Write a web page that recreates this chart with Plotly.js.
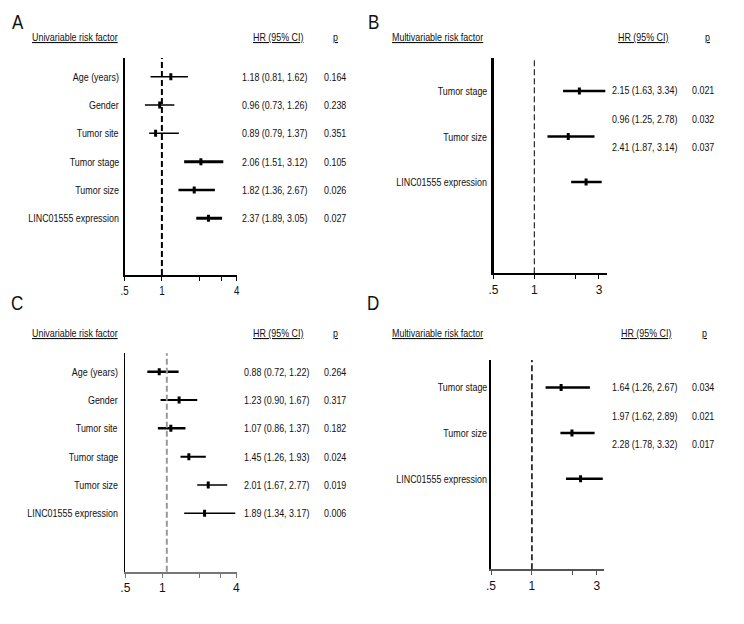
<!DOCTYPE html>
<html><head><meta charset="utf-8">
<script src="https://cdn.plot.ly/plotly-3.0.1.min.js"></script>
<style>html,body{margin:0;padding:0;background:#fff;}#chart{width:744px;height:624px;}</style>
</head><body><div id="chart"></div>
<script>
// ---------------- DATA ----------------
// Panel A – univariable
const factorsA = ['Age (years)', 'Gender', 'Tumor site', 'Tumor stage', 'Tumor size', 'LINC01555 expression'];
const hrA = [1.18, 0.96, 0.89, 2.06, 1.82, 2.37];
const loA = [0.81, 0.73, 0.79, 1.51, 1.36, 1.89];
const hiA = [1.62, 1.26, 1.37, 3.12, 2.67, 3.05];
const hrTextA = ['1.18 (0.81, 1.62)', '0.96 (0.73, 1.26)', '0.89 (0.79, 1.37)', '2.06 (1.51, 3.12)', '1.82 (1.36, 2.67)', '2.37 (1.89, 3.05)'];
const pA = ['0.164', '0.238', '0.351', '0.105', '0.026', '0.027'];

// Panel B – multivariable (plotted marks)
const factorsB = ['Tumor stage', 'Tumor size', 'LINC01555 expression'];
const hrB = [2.15, 1.78, 2.41];
const loB = [1.63, 1.25, 1.87];
const hiB = [3.34, 2.78, 3.14];
const hrTextB = ['2.15 (1.63, 3.34)', '0.96 (1.25, 2.78)', '2.41 (1.87, 3.14)'];
const pB = ['0.021', '0.032', '0.037'];

// Panel C – univariable
const factorsC = ['Age (years)', 'Gender', 'Tumor site', 'Tumor stage', 'Tumor size', 'LINC01555 expression'];
const hrC = [0.88, 1.23, 1.07, 1.45, 2.01, 1.89];
const loC = [0.72, 0.90, 0.86, 1.26, 1.67, 1.34];
const hiC = [1.22, 1.67, 1.37, 1.93, 2.77, 3.17];
const hrTextC = ['0.88 (0.72, 1.22)', '1.23 (0.90, 1.67)', '1.07 (0.86, 1.37)', '1.45 (1.26, 1.93)', '2.01 (1.67, 2.77)', '1.89 (1.34, 3.17)'];
const pC = ['0.264', '0.317', '0.182', '0.024', '0.019', '0.006'];

// Panel D – multivariable
const factorsD = ['Tumor stage', 'Tumor size', 'LINC01555 expression'];
const hrD = [1.64, 1.97, 2.28];
const loD = [1.26, 1.62, 1.78];
const hiD = [2.67, 2.89, 3.32];
const hrTextD = ['1.64 (1.26, 2.67)', '1.97 (1.62, 2.89)', '2.28 (1.78, 3.32)'];
const pD = ['0.034', '0.021', '0.017'];

const tickValsUni = [0.5, 1, 2, 3, 4];
const tickTextUni = ['.5', '1', '', '', '4'];
const tickValsMulti = [0.5, 1, 2, 3];
const tickTextMulti = ['.5', '1', '', '3'];

// ---------------- LAYOUT / STYLE ----------------
const W = 744, H = 624;
const FONT = "'Liberation Sans', Arial, sans-serif";
const FS = 11;
const SQUEEZE = 0.81;   // horizontal condensing of text to mimic a condensed face
const TXT = '#111';
const px = v => v / W;
const py = v => 1 - v / H;
const l10 = Math.log10;

const panels = [
  { letter: 'A', lx: 11, ly: 22, header: 'Univariable risk factor', hx: 30.7, hy: 36.7, hrHx: 252.3, pHx: 332,
    factors: factorsA, hr: hrA, lo: loA, hi: hiA, txt: hrTextA, p: pA,
    x0: 124.5, x1: 236.7, y0: 58, y1: 275, vis: [0.5, 4], marks: null,
    row0: 76.7, rowSp: 28.33, tRow0: 76.7, tRowSp: 28.33, labelX: 119.5, txtX: 240.7, pX: 323.3,
    tv: tickValsUni, tt: tickTextUni, yLW: 1.5, xLC: '#000', dashC: '#000', dashW: 2,
    lw: [1.5, 1.5, 1.5, 3, 2.5, 3] },
  { letter: 'B', lx: 367, ly: 22, header: 'Multivariable risk factor', hx: 391, hy: 36.7, hrHx: 617, pHx: 704,
    factors: factorsB, hr: hrB, lo: loB, hi: hiB, txt: hrTextB, p: pB,
    x0: 493.5, x1: 606.7, y0: 58, y1: 273.3, vis: [0.5, 3.42], marks: null,
    row0: 91, rowSp: 45.5, tRow0: 90.3, tRowSp: 28.3, labelX: 487.7, txtX: 611.3, pX: 691,
    tv: tickValsMulti, tt: tickTextMulti, yLW: 2.5, xLC: '#000', dashC: '#000', dashW: 1,
    lw: [2.5, 2.5, 2.5] },
  { letter: 'C', lx: 10, ly: 302, header: 'Univariable risk factor', hx: 30.7, hy: 333.3, hrHx: 252.3, pHx: 332,
    factors: factorsC, hr: hrC, lo: loC, hi: hiC, txt: hrTextC, p: pC,
    x0: 125.3, x1: 237, vis: [0.5, 4.05], y0: 353.3, y1: 571.7,
    marks: [Math.pow(2, -1.01), Math.pow(2, 1.707)],
    row0: 371.7, rowSp: 28.33, tRow0: 371.7, tRowSp: 28.33, labelX: 119, txtX: 243.3, pX: 322.7,
    tv: tickValsUni, tt: tickTextUni, yLW: 1.5, xLC: '#777', dashC: '#999', dashW: 2,
    lw: [2.5, 2, 2.5, 2, 1.5, 1.5] },
  { letter: 'D', lx: 366, ly: 302, header: 'Multivariable risk factor', hx: 391, hy: 333.3, hrHx: 620.3, pHx: 701.3,
    factors: factorsD, hr: hrD, lo: loD, hi: hiD, txt: hrTextD, p: pD,
    x0: 491, x1: 604, y0: 360, y1: 569.3, vis: [0.5, 3.39], marks: null,
    row0: 387.5, rowSp: 45.6, tRow0: 387.3, tRowSp: 28.3, labelX: 487.7, txtX: 611.3, pX: 691.3,
    tv: tickValsMulti, tt: tickTextMulti, yLW: 2.5, xLC: '#555', dashC: '#000', dashW: 1.5,
    lw: [2.5, 2.5, 2.5] }
];

const data = [];
const layout = {
  width: W, height: H, margin: { l: 0, r: 0, t: 0, b: 0 },
  paper_bgcolor: '#fff', plot_bgcolor: 'rgba(0,0,0,0)', showlegend: false,
  font: { family: FONT, size: FS, color: TXT },
  annotations: [], shapes: []
};

function ann(x, y, yref, text, xanchor, size) {
  layout.annotations.push({ xref: 'paper', yref: yref, x: x, y: y, xanchor: xanchor, align: xanchor,
    yanchor: 'middle', showarrow: false, text: text, borderpad: 0,
    font: { family: FONT, size: size || FS, color: TXT } });
}
const axId = (letter, num) => num === 1 ? letter : letter + num;
const axKey = (letter, num) => letter + 'axis' + (num === 1 ? '' : num);

let xCount = 0;
panels.forEach((P, k) => {
  const n = k + 1;
  const yy = axId('y', n);
  xCount += 1;
  const xvNum = xCount;
  const xv = axId('x', xvNum);
  const dom = [px(P.x0), px(P.x1)];
  const ydom = [py(P.y1), py(P.y0)];
  layout[axKey('x', xvNum)] = {
    type: 'log', domain: dom, range: [l10(P.vis[0]), l10(P.vis[1])], anchor: yy,
    showgrid: false, zeroline: false, showline: true, linecolor: P.xLC, linewidth: 2,
    ticks: 'outside', ticklen: 4, tickwidth: 1, tickcolor: P.xLC,
    tickvals: P.tv, ticktext: P.tt, tickfont: { family: FONT, size: 12, color: TXT }, fixedrange: true
  };
  let xm = xv;
  if (P.marks) {
    // separate scale for the marks (the original panel's marks sit on a shifted scale)
    xCount += 1;
    xm = axId('x', xCount);
    layout[axKey('x', xCount)] = {
      type: 'log', domain: dom, range: [l10(P.marks[0]), l10(P.marks[1])], anchor: yy,
      overlaying: xv, showline: false, ticks: '', showticklabels: false,
      showgrid: false, zeroline: false, fixedrange: true
    };
    data.push({ type: 'scatter', mode: 'markers', xaxis: xv, yaxis: yy, x: [1], y: [1],
      marker: { opacity: 0, size: 1 }, hoverinfo: 'skip' });
  }
  const yTop = 1 + (P.y0 - P.row0) / P.rowSp;
  const yBot = 1 + (P.y1 - P.row0) / P.rowSp;
  layout[axKey('y', n)] = {
    domain: ydom, range: [yBot, yTop], anchor: xv,
    showgrid: false, zeroline: false, showline: true, linecolor: '#000', linewidth: P.yLW,
    ticks: '', showticklabels: false, fixedrange: true
  };
  // reference line at HR = 1
  layout.shapes.push({ type: 'line', xref: xm, yref: yy + ' domain', x0: 1, x1: 1, y0: 0, y1: 1,
    line: { color: P.dashC, width: P.dashW, dash: '6px,3px' } });
  P.factors.forEach((f, i) => {
    data.push({ type: 'scatter', mode: 'lines', xaxis: xm, yaxis: yy,
      x: [P.lo[i], P.hi[i]], y: [i + 1, i + 1],
      line: { color: '#000', width: P.lw[i] }, hoverinfo: 'skip' });
    ann(px(P.labelX), i + 1, yy, f, 'right');
    const ty = py(P.tRow0 + i * P.tRowSp);
    ann(px(P.txtX), ty, 'paper', P.txt[i], 'left');
    ann(px(P.pX), ty, 'paper', P.p[i], 'left');
  });
  data.push({ type: 'scatter', mode: 'markers', xaxis: xm, yaxis: yy,
    x: P.hr, y: P.hr.map((_, i) => i + 1),
    marker: { symbol: 'line-ns', size: 5, color: '#000', line: { color: '#000', width: 3 } }, hoverinfo: 'skip' });
  ann(px(P.lx), py(P.ly), 'paper', P.letter, 'left', 21);
  ann(px(P.hx), py(P.hy), 'paper', '<u>' + P.header + '</u>', 'left');
  ann(px(P.hrHx), py(P.hy), 'paper', '<u>HR (95% CI)</u>', 'left');
  ann(px(P.pHx), py(P.hy), 'paper', '<u>p</u>', 'left');
});

Plotly.newPlot('chart', data, layout, { staticPlot: true, displayModeBar: false }).then(gd => {
  gd.querySelectorAll('text.annotation-text, .xtick text').forEach(t => {
    const w = t.getComputedTextLength();
    if (w > 0) {
      t.setAttribute('textLength', (w * SQUEEZE).toFixed(2));
      t.setAttribute('lengthAdjust', 'spacingAndGlyphs');
    }
  });
});
</script>
</body></html>
